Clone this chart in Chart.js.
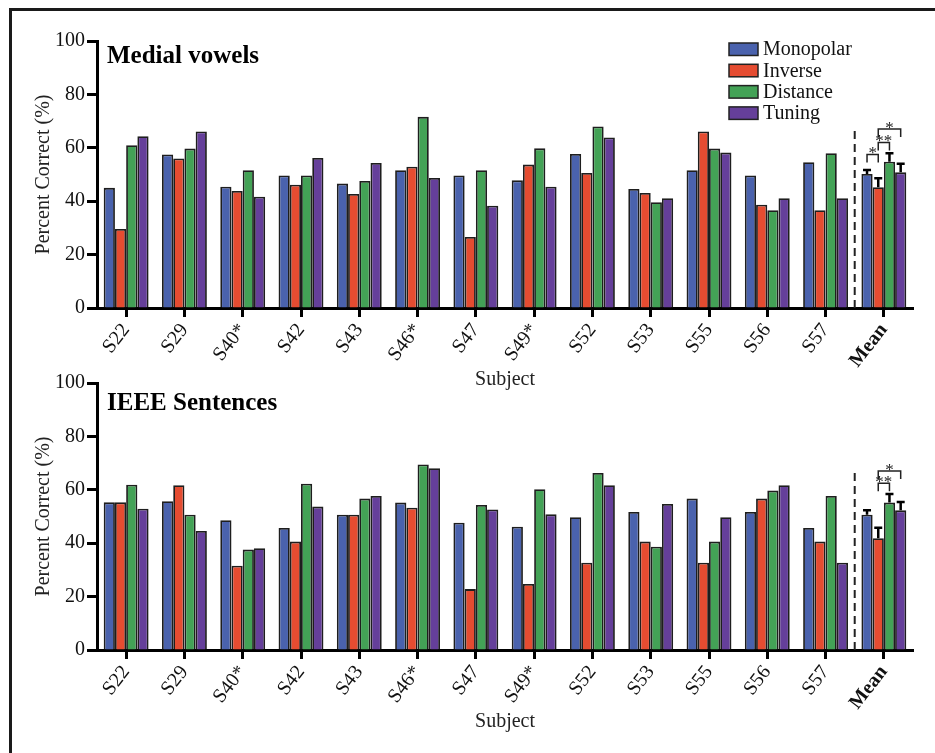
<!DOCTYPE html>
<html>
<head>
<meta charset="utf-8">
<script src="https://cdn.jsdelivr.net/npm/chart.js@4.4.1/dist/chart.umd.min.js"></script>
<style>
  html, body { margin: 0; padding: 0; background: #fff; }
  #page { position: relative; width: 935px; height: 753px; overflow: hidden; }
  #frame { position: absolute; left: 9px; top: 8px; width: 940px; height: 760px;
           border-left: 3px solid #1a1a1a; border-top: 3px solid #1a1a1a; }
  #topWrap { position: absolute; left: 0; top: 0; }
  #botWrap { position: absolute; left: 0; top: 342px; }
</style>
</head>
<body>
<div id="page">
  <div id="frame"></div>
  <div id="topWrap"><canvas id="vowelsChart" width="935" height="400"></canvas></div>
  <div id="botWrap"><canvas id="sentencesChart" width="935" height="411"></canvas></div>
</div>
<script>
// ---- data ----
const subjects = ['S22', 'S29', 'S40*', 'S42', 'S43', 'S46*', 'S47', 'S49*', 'S52', 'S53', 'S55', 'S56', 'S57', 'Mean'];
const seriesNames = ['Monopolar', 'Inverse', 'Distance', 'Tuning'];
const seriesColors = ['#4a62ad', '#e54c31', '#43a256', '#653f9a'];

// Medial vowels
const vowelsMonopolar = [45, 57.5, 45.4, 49.6, 46.6, 51.6, 49.6, 47.8, 57.7, 44.6, 51.6, 49.6, 54.6, 50.2];
const vowelsInverse   = [29.6, 56, 43.8, 46.2, 42.7, 52.9, 26.6, 53.7, 50.6, 43.1, 66.1, 38.7, 36.6, 45.2];
const vowelsDistance  = [61, 59.7, 51.6, 49.6, 47.6, 71.6, 51.6, 59.8, 68, 39.6, 59.7, 36.6, 58, 54.8];
const vowelsTuning    = [64.3, 66.1, 41.7, 56.2, 54.3, 48.7, 38.3, 45.4, 63.9, 41.1, 58.2, 41.1, 41.1, 50.8];
const vowelsMeanErr   = [1.5, 3.4, 3.2, 3.2];
const vowelsSig = [[0, 1, 57.5, '*'], [1, 2, 62, '**'], [1, 3, 67, '*']];

// IEEE sentences
const sentMonopolar = [55.3, 55.7, 48.6, 45.7, 50.7, 55.2, 47.7, 46.2, 49.7, 51.7, 56.7, 51.7, 45.7, 50.7];
const sentInverse   = [55.3, 61.7, 31.6, 40.6, 50.7, 53.3, 22.8, 24.7, 32.7, 40.6, 32.7, 56.7, 40.6, 41.9];
const sentDistance  = [61.9, 50.7, 37.6, 62.3, 56.7, 69.5, 54.3, 60.2, 66.3, 38.7, 40.6, 59.7, 57.7, 55.2];
const sentTuning    = [52.9, 44.6, 38.1, 53.7, 57.7, 68.1, 52.6, 50.8, 61.7, 54.7, 49.7, 61.7, 32.7, 52.3];
const sentMeanErr   = [1.6, 3.9, 3.2, 3.1];
const sentSig = [[1, 2, 62.5, '**'], [1, 3, 67, '*']];

const dividerTop = 68;  // dashed separator reaches up to this value

const SERIF = "'Liberation Serif', 'Times New Roman', serif";
const meanIndex = subjects.indexOf('Mean');

// draws panel title, legend, dashed divider, mean error bars and significance brackets
const panelDeco = {
  id: 'panelDeco',
  afterDatasetsDraw(chart, args, opts) {
    const ctx = chart.ctx;
    const area = chart.chartArea;
    const xs = chart.scales.x, ys = chart.scales.y;
    ctx.save();

    // dashed divider before Mean
    const xDiv = (xs.getPixelForValue(meanIndex - 1) + xs.getPixelForValue(meanIndex)) / 2;
    ctx.strokeStyle = '#222';
    ctx.lineWidth = 2;
    ctx.setLineDash([8, 5]);
    ctx.beginPath();
    ctx.moveTo(xDiv, area.bottom);
    ctx.lineTo(xDiv, ys.getPixelForValue(dividerTop));
    ctx.stroke();
    ctx.setLineDash([]);

    // error bars (SEM, up only) on the Mean group
    ctx.strokeStyle = '#000';
    ctx.lineWidth = 2.5;
    opts.errors.forEach((err, d) => {
      const bar = chart.getDatasetMeta(d).data[meanIndex];
      const v = chart.data.datasets[d].data[meanIndex];
      const yTop = ys.getPixelForValue(v + err);
      ctx.beginPath();
      ctx.moveTo(bar.x, bar.y);
      ctx.lineTo(bar.x, yTop);
      ctx.moveTo(bar.x - 4, yTop);
      ctx.lineTo(bar.x + 4, yTop);
      ctx.stroke();
    });

    // significance brackets
    ctx.strokeStyle = '#222';
    ctx.lineWidth = 1.5;
    ctx.fillStyle = '#222';
    ctx.font = '17px ' + SERIF;
    ctx.textAlign = 'center';
    ctx.textBaseline = 'alphabetic';
    opts.brackets.forEach(([a, b, level, mark]) => {
      const xa = chart.getDatasetMeta(a).data[meanIndex].x;
      const xb = chart.getDatasetMeta(b).data[meanIndex].x;
      const y = ys.getPixelForValue(level);
      ctx.beginPath();
      ctx.moveTo(xa, y + 8);
      ctx.lineTo(xa, y);
      ctx.lineTo(xb, y);
      ctx.lineTo(xb, y + 8);
      ctx.stroke();
      ctx.fillText(mark, (xa + xb) / 2, y + 4);
    });

    // panel title
    ctx.fillStyle = '#000';
    ctx.textAlign = 'left';
    ctx.font = 'bold 25px ' + SERIF;
    ctx.fillText(opts.title, area.left + 10, opts.titleY);

    // legend
    if (opts.legend) {
      const x0 = area.right - 184;
      ctx.font = '20px ' + SERIF;
      ctx.textBaseline = 'middle';
      chart.data.datasets.forEach((ds, i) => {
        const y0 = area.top + 2 + i * 21.3;
        ctx.fillStyle = ds.backgroundColor;
        ctx.fillRect(x0, y0, 29, 12.5);
        ctx.strokeStyle = '#222';
        ctx.lineWidth = 1.5;
        ctx.strokeRect(x0, y0, 29, 12.5);
        ctx.fillStyle = '#111';
        ctx.fillText(ds.label, x0 + 34, y0 + 7);
      });
    }
    ctx.restore();
  }
};

function buildChart(canvasId, values, errors, brackets, title, titleY, legend, padBottom) {
  return new Chart(document.getElementById(canvasId), {
    type: 'bar',
    data: {
      labels: subjects,
      datasets: values.map((vals, i) => ({
        label: seriesNames[i],
        data: vals,
        backgroundColor: seriesColors[i],
        borderColor: '#1e1e1e',
        borderWidth: 1.8,
        categoryPercentage: 0.77,
        barPercentage: 1.0
      }))
    },
    options: {
      responsive: false,
      animation: false,
      layout: { padding: { left: 32, right: 22, top: 41, bottom: padBottom } },
      plugins: {
        legend: { display: false },
        tooltip: { enabled: false },
        panelDeco: { title, titleY, legend, errors, brackets }
      },
      scales: {
        x: {
          afterFit: s => { s.height = 84; },
          grid: { offset: false, drawOnChartArea: false, tickLength: 9, tickWidth: 3, tickColor: '#000' },
          border: { display: true, width: 3, color: '#000' },
          ticks: {
            autoSkip: false,
            minRotation: 52,
            maxRotation: 52,
            padding: 2,
            color: '#111',
            font: c => ({ family: SERIF, size: 20, weight: c.index === meanIndex ? 'bold' : 'normal' })
          },
          title: { display: true, text: 'Subject', color: '#222', padding: 0, font: { family: SERIF, size: 20 } }
        },
        y: {
          min: 0,
          max: 100,
          afterFit: s => { s.width = 65; },
          grid: { drawOnChartArea: false, tickLength: 10, tickWidth: 3, tickColor: '#000' },
          border: { display: true, width: 3, color: '#000' },
          ticks: { stepSize: 20, padding: 2, color: '#111', font: { family: SERIF, size: 20 } },
          title: { display: true, text: 'Percent Correct (%)', color: '#222', padding: 0, font: { family: SERIF, size: 20 } }
        }
      }
    },
    plugins: [panelDeco]
  });
}

buildChart('vowelsChart',
  [vowelsMonopolar, vowelsInverse, vowelsDistance, vowelsTuning],
  vowelsMeanErr, vowelsSig, 'Medial vowels', 63, true, 8);

buildChart('sentencesChart',
  [sentMonopolar, sentInverse, sentDistance, sentTuning],
  sentMeanErr, sentSig, 'IEEE Sentences', 68, false, 19);
</script>
</body>
</html>
